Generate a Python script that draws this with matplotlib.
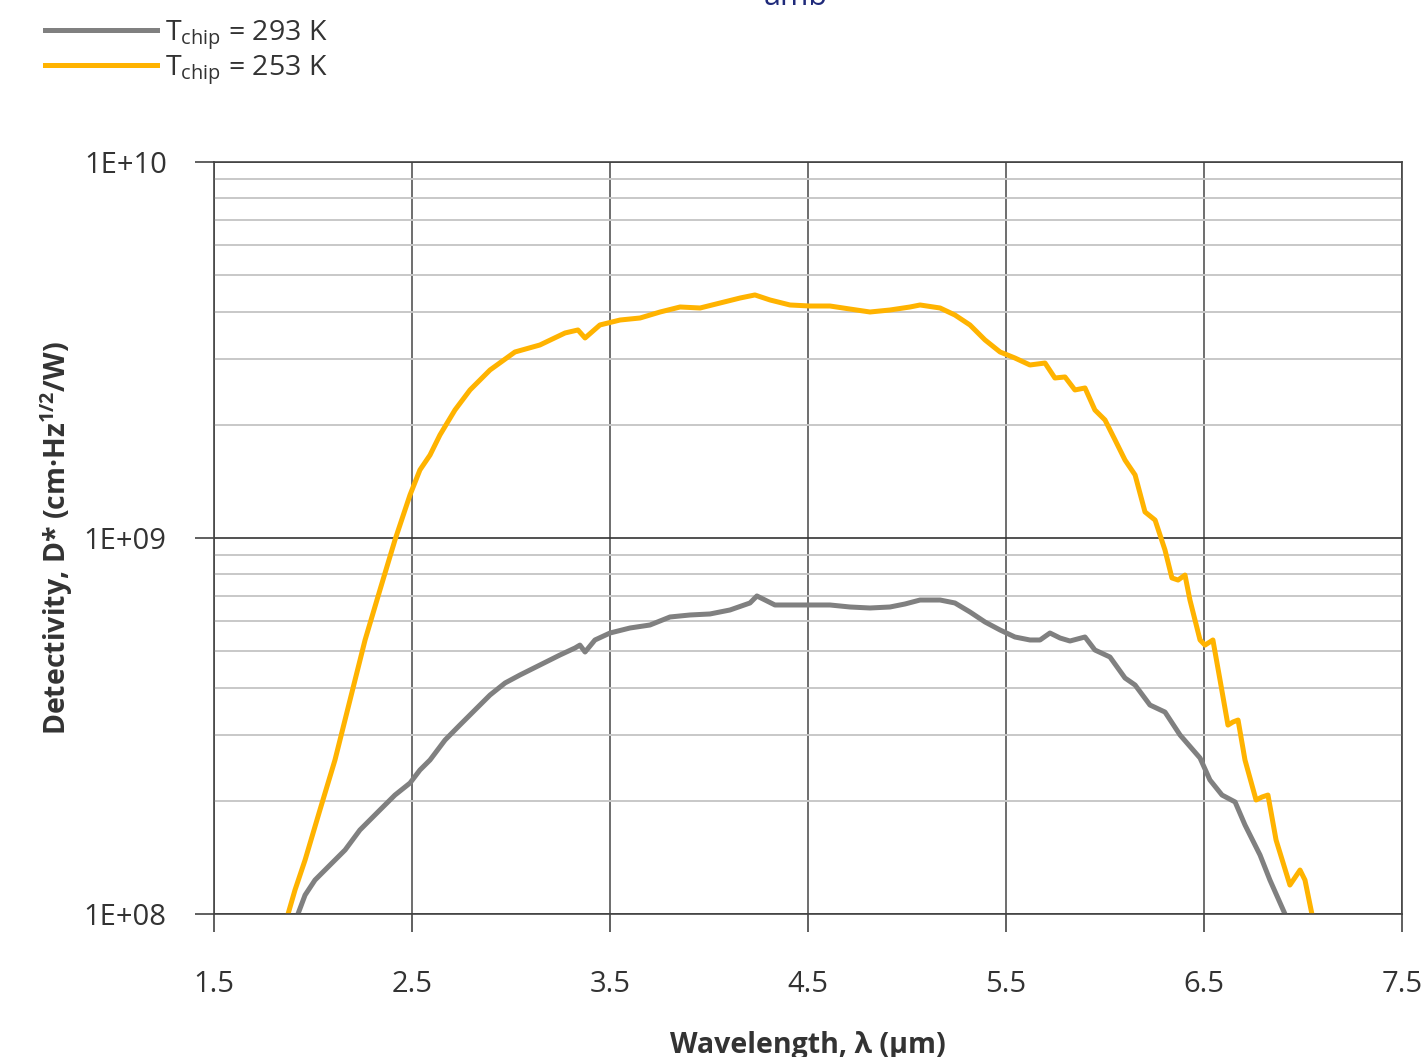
import matplotlib.pyplot as plt
from matplotlib.ticker import LogLocator, FixedLocator, NullFormatter

plt.switch_backend('Agg')

plt.rcParams['font.family'] = ['Open Sans', 'DejaVu Sans']
plt.rcParams['mathtext.fontset'] = 'custom'
plt.rcParams['mathtext.rm'] = 'Open Sans'
plt.rcParams['mathtext.bf'] = 'Open Sans:bold'

# Spectral detectivity, chip at 293 K
wl_293 = [1.924, 1.960, 2.010, 2.086, 2.162, 2.237, 2.338, 2.414, 2.490, 2.540,
          2.591, 2.667, 2.742, 2.818, 2.894, 2.970, 3.045, 3.146, 3.247, 3.323,
          3.348, 3.374, 3.424, 3.500, 3.601, 3.702, 3.803, 3.904, 4.005, 4.106,
          4.207, 4.242, 4.283, 4.333, 4.409, 4.510, 4.611, 4.712, 4.813, 4.914,
          4.990, 5.066, 5.167, 5.242, 5.318, 5.394, 5.470, 5.545, 5.621, 5.672,
          5.722, 5.773, 5.823, 5.899, 5.949, 6.025, 6.101, 6.152, 6.227, 6.303,
          6.379, 6.480, 6.530, 6.591, 6.657, 6.707, 6.783, 6.833, 6.909]
d_293 = [1.000e8, 1.123e8, 1.231e8, 1.350e8, 1.480e8, 1.673e8, 1.891e8, 2.072e8,
         2.230e8, 2.415e8, 2.568e8, 2.902e8, 3.182e8, 3.488e8, 3.823e8, 4.115e8,
         4.321e8, 4.594e8, 4.884e8, 5.098e8, 5.190e8, 4.975e8, 5.355e8, 5.589e8,
         5.763e8, 5.870e8, 6.165e8, 6.241e8, 6.280e8, 6.435e8, 6.717e8, 7.011e8,
         6.840e8, 6.635e8, 6.635e8, 6.635e8, 6.635e8, 6.554e8, 6.514e8, 6.554e8,
         6.676e8, 6.840e8, 6.840e8, 6.717e8, 6.357e8, 5.979e8, 5.693e8, 5.454e8,
         5.355e8, 5.355e8, 5.589e8, 5.420e8, 5.322e8, 5.454e8, 5.036e8, 4.825e8,
         4.243e8, 4.064e8, 3.596e8, 3.444e8, 2.993e8, 2.599e8, 2.272e8, 2.072e8,
         1.986e8, 1.725e8, 1.435e8, 1.231e8, 1.000e8]

# Spectral detectivity, chip at 253 K
wl_253 = [1.874, 1.909, 1.960, 2.035, 2.111, 2.187, 2.263, 2.338, 2.414, 2.490,
          2.540, 2.591, 2.641, 2.717, 2.793, 2.894, 3.020, 3.146, 3.273, 3.338,
          3.374, 3.449, 3.551, 3.652, 3.753, 3.854, 3.955, 4.056, 4.157, 4.232,
          4.308, 4.409, 4.510, 4.611, 4.712, 4.813, 4.914, 5.015, 5.066, 5.167,
          5.242, 5.318, 5.394, 5.470, 5.545, 5.621, 5.697, 5.747, 5.798, 5.848,
          5.899, 5.949, 6.000, 6.051, 6.101, 6.152, 6.202, 6.253, 6.303, 6.338,
          6.369, 6.404, 6.429, 6.480, 6.505, 6.545, 6.581, 6.621, 6.646, 6.672,
          6.707, 6.763, 6.793, 6.823, 6.864, 6.934, 6.985, 7.010, 7.045]
d_253 = [1.000e8, 1.158e8, 1.392e8, 1.891e8, 2.568e8, 3.709e8, 5.355e8, 7.272e8,
         9.880e8, 1.302e9, 1.517e9, 1.662e9, 1.879e9, 2.190e9, 2.476e9, 2.798e9,
         3.124e9, 3.261e9, 3.510e9, 3.575e9, 3.404e9, 3.686e9, 3.800e9, 3.847e9,
         3.991e9, 4.115e9, 4.090e9, 4.217e9, 4.348e9, 4.430e9, 4.296e9, 4.166e9,
         4.140e9, 4.140e9, 4.064e9, 3.991e9, 4.040e9, 4.115e9, 4.166e9, 4.090e9,
         3.918e9, 3.686e9, 3.363e9, 3.124e9, 3.011e9, 2.885e9, 2.920e9, 2.664e9,
         2.681e9, 2.476e9, 2.506e9, 2.190e9, 2.060e9, 1.822e9, 1.612e9, 1.471e9,
         1.173e9, 1.116e9, 9.290e8, 7.830e8, 7.730e8, 7.970e8, 6.840e8, 5.355e8,
         5.190e8, 5.355e8, 4.190e8, 3.180e8, 3.240e8, 3.280e8, 2.568e8, 2.010e8,
         2.047e8, 2.072e8, 1.573e8, 1.194e8, 1.309e8, 1.231e8, 1.000e8]

x_ticks = [1.5, 2.5, 3.5, 4.5, 5.5, 6.5, 7.5]
y_ticks = [1e8, 1e9, 1e10]
y_tick_labels = ['1E+08', '1E+09', '1E+10']

GRAY = '#808080'
YELLOW = '#FFB300'

fig = plt.figure(figsize=(14.24, 10.57), dpi=100)
ax = fig.add_axes([214 / 1424, 1 - 914 / 1057, (1402 - 214) / 1424, (914 - 162) / 1057])

ax.plot(wl_293, d_293, color=GRAY, lw=3.6, label=r'T$_{\rm chip}$ = 293 K', solid_joinstyle='round')
ax.plot(wl_253, d_253, color=YELLOW, lw=3.6, label=r'T$_{\rm chip}$ = 253 K', solid_joinstyle='round')

ax.set_yscale('log')
ax.set_xlim(1.5, 7.5)
ax.set_ylim(1e8, 1e10)

ax.xaxis.set_major_locator(FixedLocator(x_ticks))
ax.set_xticklabels([str(t) for t in x_ticks])
ax.yaxis.set_major_locator(FixedLocator(y_ticks))
ax.set_yticklabels(y_tick_labels)
ax.yaxis.set_minor_locator(LogLocator(base=10, subs=range(2, 10)))
ax.yaxis.set_minor_formatter(NullFormatter())

ax.tick_params(axis='x', which='major', direction='out', length=13, width=1.2,
               color='#444444', pad=27, labelsize=21, labelcolor='#333333')
ax.tick_params(axis='y', which='major', direction='out', length=14, width=1.2,
               color='#444444', pad=20, labelsize=21, labelcolor='#333333')
ax.tick_params(axis='y', which='minor', length=0)

ax.grid(True, which='minor', axis='y', color='#c8c8c8', lw=1.4)
ax.grid(True, which='major', axis='y', color='#333333', lw=1.2)
ax.grid(True, which='major', axis='x', color='#555555', lw=1.2)
ax.set_axisbelow(True)
for s in ax.spines.values():
    s.set_color('#444444')
    s.set_linewidth(1.2)

ax.set_xlabel('Wavelength, λ (µm)', fontsize=20.5, fontweight='bold', color='#333333', labelpad=23)
ax.set_ylabel(r'Detectivity, D* (cm·Hz$^{\mathbf{1/2}}$/W)', fontsize=20.5, fontweight='bold',
              color='#333333', labelpad=6)

leg = fig.legend(loc='upper left', bbox_to_anchor=(45 / 1424, 1 - 18 / 1057), frameon=False,
                 fontsize=20.5, handlelength=3.95, handletextpad=0.25, labelspacing=0.05,
                 borderpad=0, borderaxespad=0)
for t in leg.get_texts():
    t.set_color('#333333')

fig.text(796 / 1424, 1 - 5 / 1057, 'amb', ha='center', va='baseline', fontsize=22, color='#1f2a7a')

fig.savefig('out.png', dpi=100)
